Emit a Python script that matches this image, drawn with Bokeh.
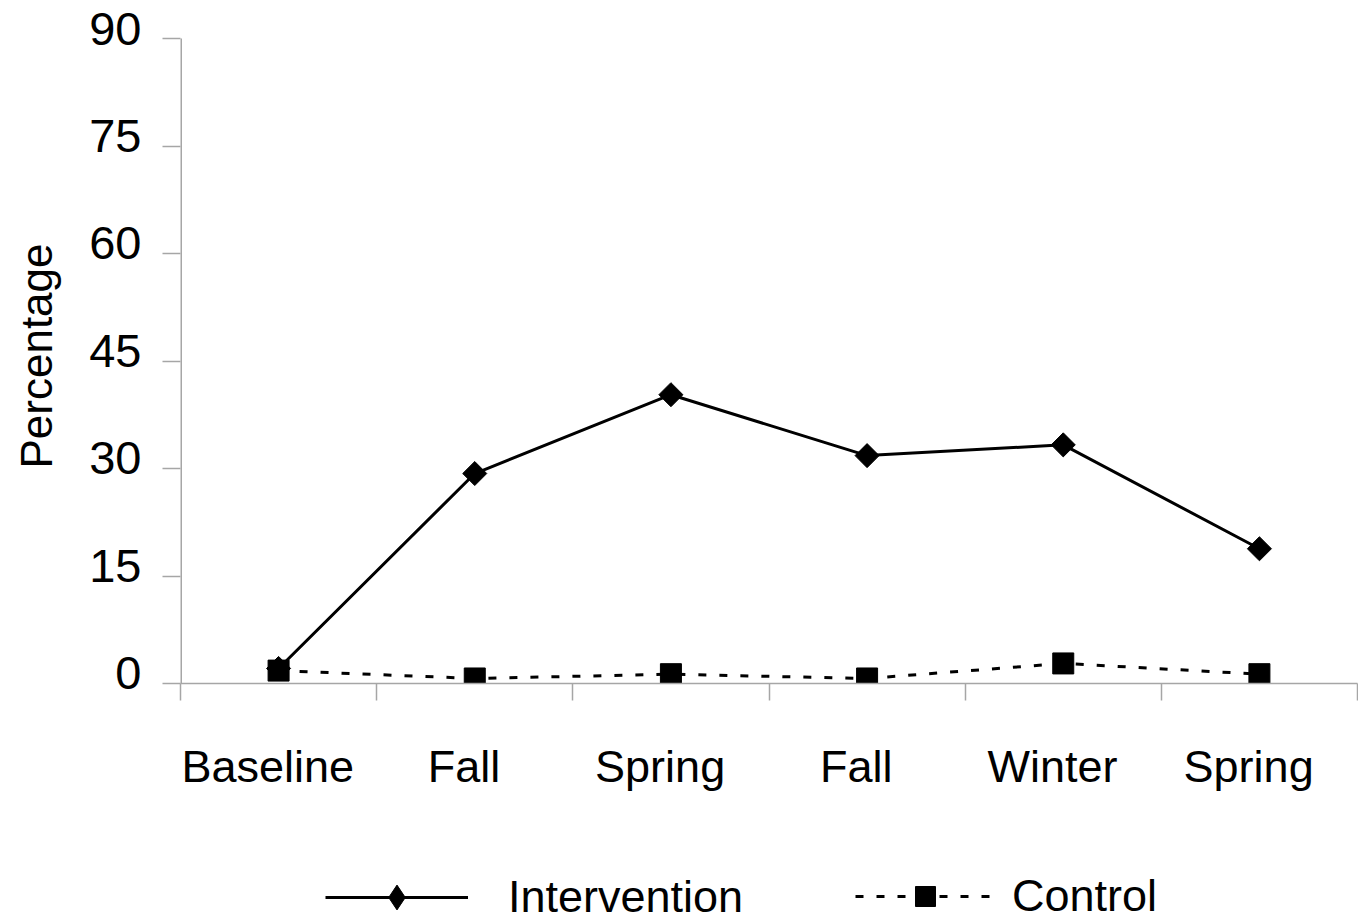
import math
from bokeh.plotting import figure
from bokeh.layouts import column
from bokeh.models import FixedTicker, Legend, LegendItem, Range1d
from bokeh.embed import file_html
from bokeh.resources import INLINE

categories = ["Baseline", "Fall", "Spring", "Fall", "Winter", "Spring"]
intervention = [2.1, 29.3, 40.3, 31.8, 33.3, 18.8]
control = [1.8, 0.7, 1.3, 0.7, 2.8, 1.3]
y_ticks = [0, 15, 30, 45, 60, 75, 90]

FONT = "Liberation Sans"
AXIS_GRAY = "#a6a6a6"
LABEL_LIFT = 1.4  # tick labels sit slightly above their tick marks

n = len(categories)
xs = [i + 0.5 for i in range(n)]
label_pos = [i + 0.445 for i in range(n)]
ylabel_pos = [v + LABEL_LIFT for v in y_ticks]

W = 1358
p = figure(width=W, height=830, output_backend="svg", toolbar_location=None,
           x_range=Range1d(0, n), y_range=Range1d(0, y_ticks[-1] + LABEL_LIFT),
           min_border_left=180, min_border_right=1, min_border_top=28, min_border_bottom=147)
p.outline_line_color = None
p.xgrid.visible = False
p.ygrid.visible = False
p.background_fill_color = "white"
p.border_fill_color = "white"

# x axis
xa = p.xaxis[0]
xa.ticker = FixedTicker(ticks=label_pos, minor_ticks=list(range(n + 1)))
xa.major_label_overrides = {pos: c for pos, c in zip(label_pos, categories)}
xa.major_tick_out = 0
xa.major_tick_in = 0
xa.minor_tick_out = 17
xa.minor_tick_in = 0
xa.minor_tick_line_color = AXIS_GRAY
xa.minor_tick_line_width = 1.5
xa.axis_line_color = AXIS_GRAY
xa.axis_line_width = 1.5
xa.major_label_text_font = FONT
xa.major_label_text_font_size = "45px"
xa.major_label_text_color = "black"
xa.major_label_standoff = 40

# y axis
ya = p.yaxis[0]
ya.ticker = FixedTicker(ticks=ylabel_pos, minor_ticks=y_ticks)
ya.major_label_overrides = {pos: str(v) for pos, v in zip(ylabel_pos, y_ticks)}
ya.major_tick_out = 0
ya.major_tick_in = 0
ya.minor_tick_out = 18
ya.minor_tick_in = 0
ya.minor_tick_line_color = AXIS_GRAY
ya.minor_tick_line_width = 1.5
ya.axis_line_color = None
ya.major_label_text_font = FONT
ya.major_label_text_font_size = "47px"
ya.major_label_text_color = "black"
ya.major_label_standoff = 21
ya.axis_label = "Percentage"
ya.axis_label_text_font = FONT
ya.axis_label_text_font_size = "44px"
ya.axis_label_text_font_style = "normal"
ya.axis_label_text_color = "black"
ya.axis_label_standoff = 25

# vertical axis line from 0 to the top tick
p.line([0, 0], [y_ticks[0], y_ticks[-1]], line_color=AXIS_GRAY, line_width=3)

# series
r_int_line = p.line(xs, intervention, line_color="black", line_width=3)
r_int_pts = p.scatter(xs, intervention, marker="square", angle=math.pi / 4, size=17,
                      fill_color="black", line_color="black")
r_ctl_line = p.line(xs, control, line_color="black", line_width=3, line_dash="8 13")
r_ctl_pts = p.scatter(xs, control, marker="square", size=21,
                      fill_color="black", line_color="black")

# legend strip (its renderers hold the same data, viewed outside its ranges)
lg = figure(width=W, height=92, output_backend="svg", toolbar_location=None,
            x_axis_type=None, y_axis_type=None,
            x_range=Range1d(-200, -199), y_range=Range1d(-200, -199),
            min_border=0, min_border_left=0, min_border_right=0, min_border_top=0, min_border_bottom=0)
lg.outline_line_color = None
lg.xgrid.visible = False
lg.ygrid.visible = False

l_int_line = lg.line(xs, intervention, line_color="black", line_width=3)
l_int_pts = lg.scatter(xs, intervention, marker="diamond", size=24,
                       fill_color="black", line_color="black")
l_ctl_line = lg.line(xs, control, line_color="black", line_width=3, line_dash="8 13")
l_ctl_pts = lg.scatter(xs, control, marker="square", size=21, fill_color="black", line_color="black")


def make_legend(item, loc, gw, gh, standoff):
    return Legend(items=[item], location=loc, orientation="horizontal",
                  glyph_width=gw, glyph_height=gh, label_height=50,
                  label_standoff=standoff, padding=0, margin=0, spacing=0,
                  border_line_color=None, background_fill_alpha=0,
                  label_text_font=FONT, label_text_font_size="45px",
                  label_text_color="black")


lg.add_layout(make_legend(LegendItem(label="Intervention", renderers=[l_int_line, l_int_pts]),
                          (145, -6), 143, 62, 40), "center")
lg.add_layout(make_legend(LegendItem(label="Control", renderers=[l_ctl_line, l_ctl_pts]),
                          (675, 0), 140, 50, 17), "center")

layout = column(p, lg, spacing=0)
open("out.html", "w").write(file_html(layout, INLINE))
